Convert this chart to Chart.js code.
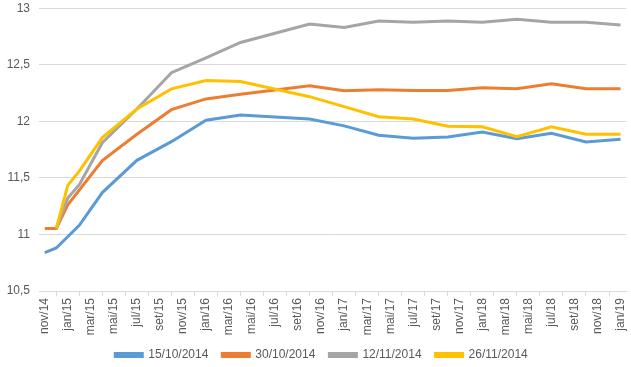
<!DOCTYPE html>
<html>
<head>
<meta charset="utf-8">
<script src="https://cdn.jsdelivr.net/npm/chart.js@4"></script>
<style>
  body { margin: 0; background: #fff; overflow: hidden; }
  #wrap { width: 637px; height: 375px; margin-top: -8px; }
</style>
</head>
<body>
<div id="wrap"><canvas id="curveChart"></canvas></div>
<script>
// months on the x axis, nov/14 .. jan/19
const months = ["nov/14", "dez/14",
    "jan/15", "fev/15", "mar/15", "abr/15", "mai/15", "jun/15", "jul/15", "ago/15", "set/15", "out/15", "nov/15", "dez/15",
    "jan/16", "fev/16", "mar/16", "abr/16", "mai/16", "jun/16", "jul/16", "ago/16", "set/16", "out/16", "nov/16", "dez/16",
    "jan/17", "fev/17", "mar/17", "abr/17", "mai/17", "jun/17", "jul/17", "ago/17", "set/17", "out/17", "nov/17", "dez/17",
    "jan/18", "fev/18", "mar/18", "abr/18", "mai/18", "jun/18", "jul/18", "ago/18", "set/18", "out/18", "nov/18", "dez/18",
    "jan/19"];

const seriesNames = ["15/10/2014", "30/10/2014", "12/11/2014", "26/11/2014"];

// vertices of each curve (month label -> rate), other months are empty
const curve1510 = {"nov/14": 10.84, "dez/14": 10.88, "fev/15": 11.08, "abr/15": 11.37, "jul/15": 11.655,
    "out/15": 11.82, "jan/16": 12.01, "abr/16": 12.055, "out/16": 12.02, "jan/17": 11.96, "abr/17": 11.877,
    "jul/17": 11.85, "out/17": 11.862, "jan/18": 11.906, "abr/18": 11.847, "jul/18": 11.895, "out/18": 11.817, "jan/19": 11.841};
const curve3010 = {"nov/14": 11.053, "dez/14": 11.053, "jan/15": 11.262, "abr/15": 11.654, "jul/15": 11.886,
    "out/15": 12.103, "jan/16": 12.198, "abr/16": 12.24, "out/16": 12.314, "jan/17": 12.27, "abr/17": 12.28,
    "jul/17": 12.272, "out/17": 12.272, "jan/18": 12.296, "abr/18": 12.287, "jul/18": 12.332, "out/18": 12.287, "jan/19": 12.287};
const curve1211 = {"dez/14": 11.053, "jan/15": 11.321, "fev/15": 11.44, "abr/15": 11.811, "jul/15": 12.109,
    "out/15": 12.43, "jan/16": 12.56, "abr/16": 12.697, "out/16": 12.86, "jan/17": 12.83, "abr/17": 12.887,
    "jul/17": 12.875, "out/17": 12.887, "jan/18": 12.875, "abr/18": 12.902, "jul/18": 12.875, "out/18": 12.875, "jan/19": 12.851};
const curve2611 = {"dez/14": 11.053, "jan/15": 11.434, "fev/15": 11.559, "abr/15": 11.856, "jul/15": 12.109,
    "out/15": 12.287, "jan/16": 12.361, "abr/16": 12.352, "out/16": 12.218, "jan/17": 12.13, "abr/17": 12.04,
    "jul/17": 12.02, "out/17": 11.957, "jan/18": 11.951, "abr/18": 11.865, "jul/18": 11.951, "out/18": 11.886, "jan/19": 11.886};

const colors = ["#5B9BD5", "#ED7D31", "#A5A5A5", "#FFC000"];

function toSeries(curve) {
    return months.map(m => (m in curve ? curve[m] : null));
}

const curves = [curve1510, curve3010, curve1211, curve2611];
const labelColor = "#595959";
const gridColor = "#D9D9D9";
const font = { family: "'Liberation Sans', Arial, sans-serif", size: 12 };

// nudge the legend a little to the right, like the original
const legendShift = {
    id: "legendShift",
    afterUpdate(chart) {
        chart.legend.left += 6;
        chart.legend.right += 6;
    }
};

new Chart(document.getElementById("curveChart"), {
    type: "line",
    data: {
        labels: months,
        datasets: curves.map((c, i) => ({
            label: seriesNames[i],
            data: toSeries(c),
            borderColor: colors[i],
            backgroundColor: colors[i],
            borderWidth: 3,
            pointRadius: 0,
            tension: 0,
            spanGaps: true,
            order: curves.length - i // later series on top, like the original
        }))
    },
    plugins: [legendShift],
    options: {
        responsive: true,
        maintainAspectRatio: false,
        animation: false,
        layout: { padding: { top: 0, right: 6, left: 0, bottom: -4 } },
        plugins: {
            tooltip: { enabled: false },
            legend: {
                position: "bottom",
                labels: {
                    boxWidth: 27,
                    boxHeight: 3,
                    padding: 14,
                    color: labelColor,
                    font: font,
                    sort: (a, b) => a.datasetIndex - b.datasetIndex
                }
            }
        },
        scales: {
            x: {
                offset: true,
                grid: { offset: true, drawOnChartArea: false, drawTicks: true, tickLength: 5, color: gridColor },
                border: { color: gridColor },
                ticks: {
                    autoSkip: false,
                    minRotation: 90,
                    maxRotation: 90,
                    padding: 2,
                    color: labelColor,
                    font: font,
                    callback: function (val, idx) {
                        return idx % 2 === 0 ? this.getLabelForValue(val) : null;
                    }
                },
                afterFit: s => { s.height = 44; }
            },
            y: {
                min: 10.5,
                max: 13,
                border: { display: false },
                grid: { color: gridColor, drawTicks: false },
                ticks: {
                    stepSize: 0.5,
                    padding: 9,
                    color: labelColor,
                    font: font,
                    callback: v => String(v).replace(".", ",")
                },
                afterFit: s => { s.width = 39; }
            }
        }
    }
});
</script>
</body>
</html>
